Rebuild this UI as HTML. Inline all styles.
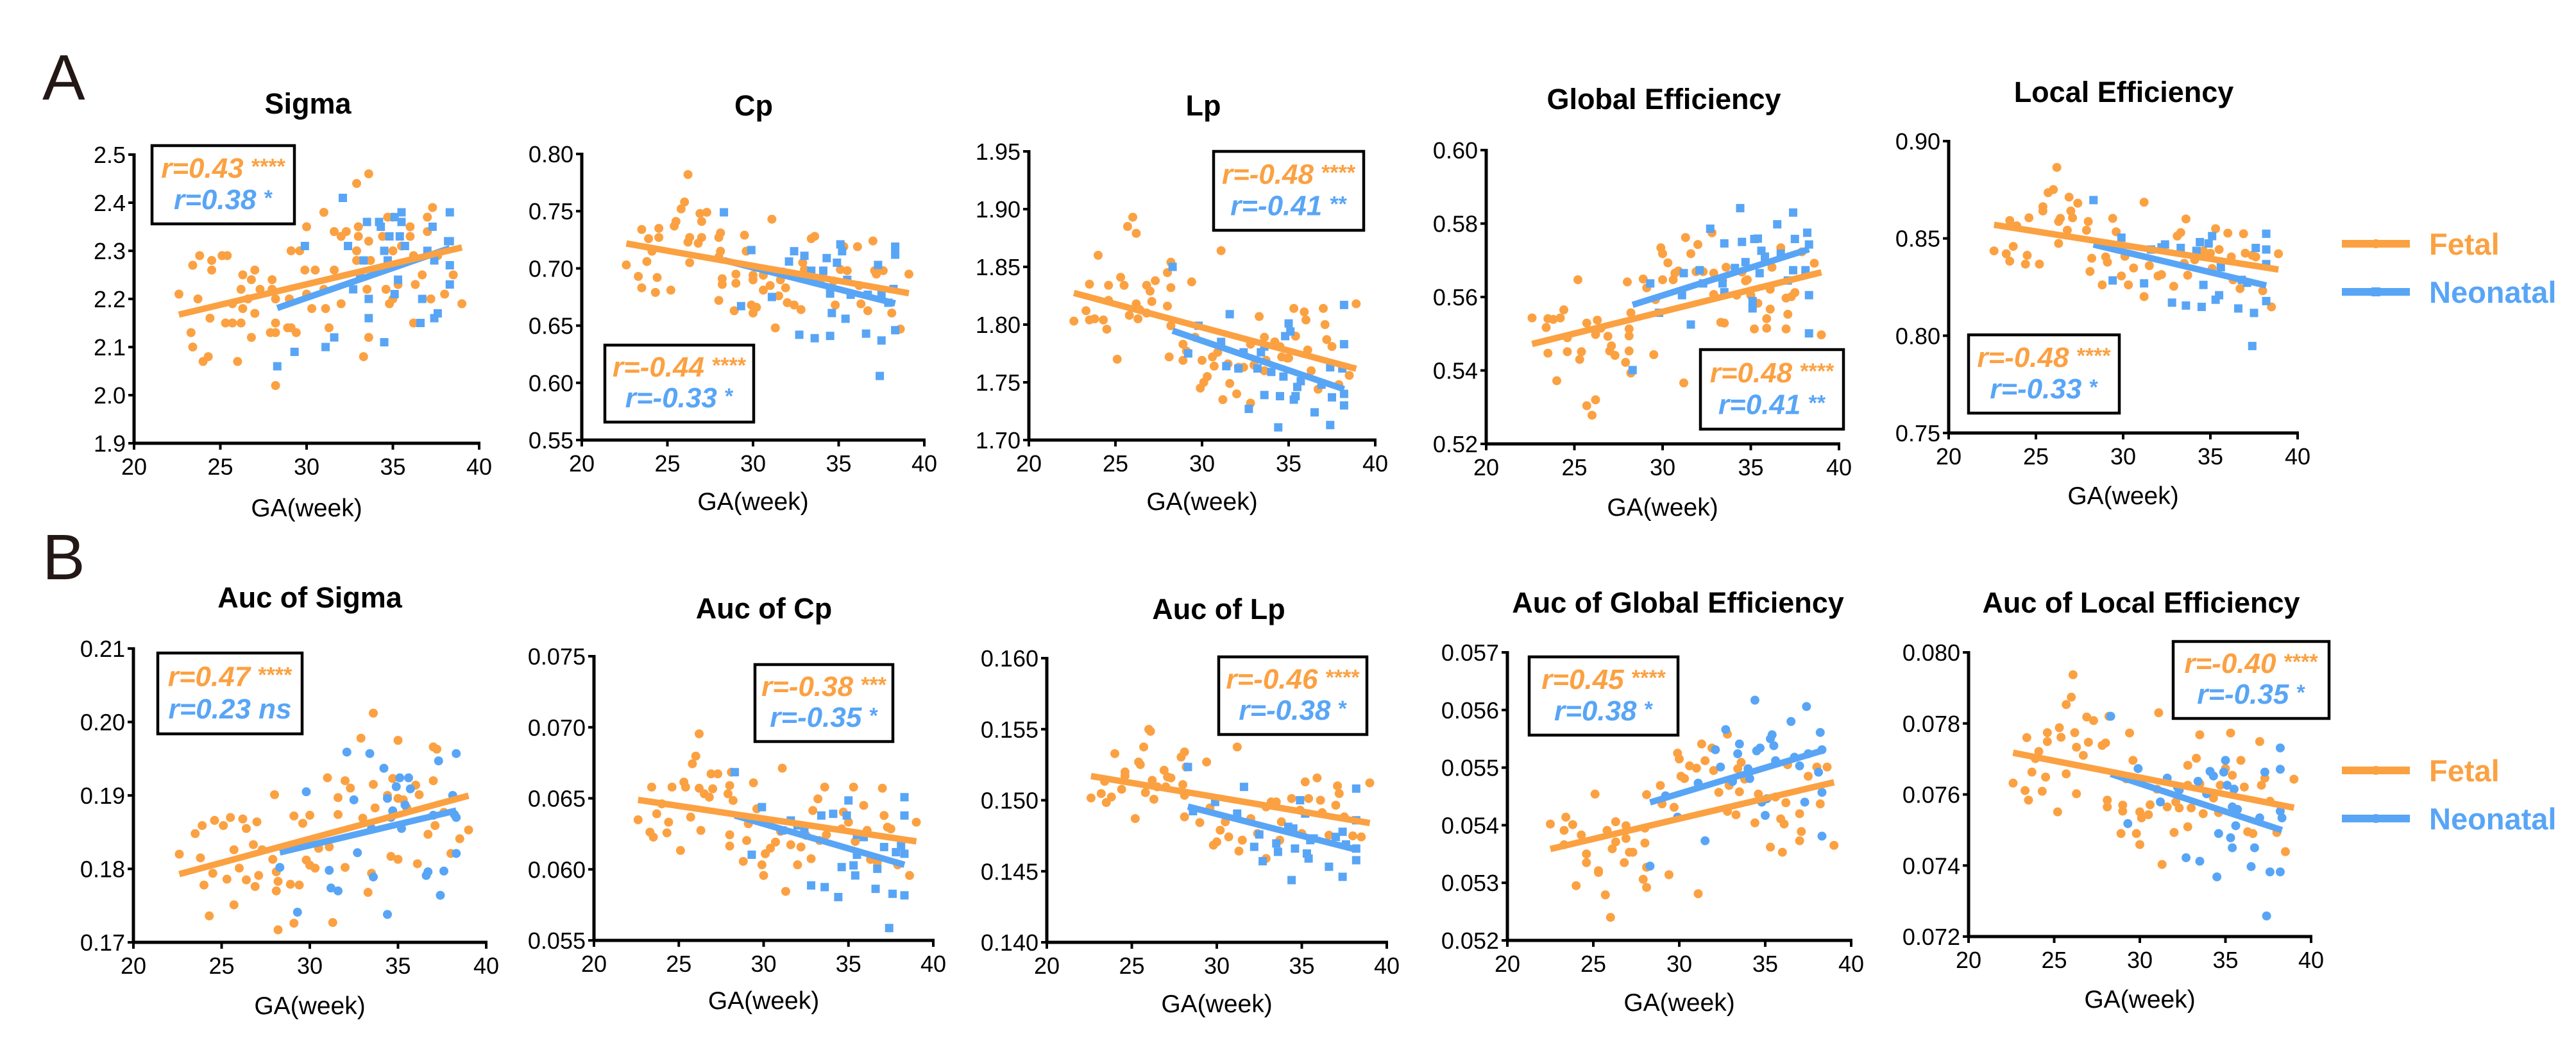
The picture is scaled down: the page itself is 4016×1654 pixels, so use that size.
<!DOCTYPE html>
<html><head><meta charset="utf-8"><style>
html,body{margin:0;padding:0;background:#fff;}
svg{display:block;font-family:"Liberation Sans",Arial,sans-serif;}
</style></head><body>
<svg id="fig" width="4016" height="1654" viewBox="0 0 4016 1654" xmlns="http://www.w3.org/2000/svg">
<rect width="4016" height="1654" fill="#fff"/>
<text x="66" y="155" font-size="100" fill="#231815">A</text>
<text x="66" y="903" font-size="100" fill="#231815">B</text>
</svg>
<script>
const ORANGE="#FBA142", BLUE="#58A5F6";
// ---- A1 Sigma ----
const sigmaFetalGA=[22.6,23.4,23.8,23.7,23.3,23.4,24.0,24.3,24.4,24.5,24.5,25.1,25.4,25.3,25.7,25.7,26.2,26.2,26.3,26.3,26.0,26.8,27.0,27.0,26.8,27.3,26.6,28.0,28.0,28.2,28.2,27.9,28.2,28.2,28.9,29.1,29.0,29.4,29.1,29.6,29.9,30.0,30.0,30.3,30.5,31.0,31.0,31.1,31.3,31.6,31.6,32.0,32.0,32.3,32.9,32.9,32.9,33.0,33.0,33.3,33.5,33.6,33.6,33.7,33.6,34.4,34.6,34.7,35.0,35.0,34.8,35.0,35.3,35.5,36.0,36.0,36.2,36.2,36.3,36.7,37.0,37.0,37.2,37.3,37.6,38.0,38.5,39.0];
const sigmaFetalVal=[2.21,2.27,2.29,2.20,2.13,2.10,2.07,2.08,2.16,2.28,2.26,2.29,2.29,2.15,2.15,2.19,2.15,2.22,2.25,2.18,2.07,2.24,2.26,2.17,2.12,2.22,2.20,2.24,2.22,2.20,2.15,2.13,2.13,2.02,2.14,2.14,2.20,2.13,2.30,2.30,2.26,2.35,2.21,2.18,2.26,2.38,2.22,2.18,2.14,2.26,2.34,2.33,2.19,2.34,2.44,2.30,2.28,2.35,2.33,2.08,2.22,2.46,2.32,2.28,2.12,2.33,2.22,2.37,2.37,2.30,2.19,2.20,2.23,2.31,2.35,2.33,2.15,2.29,2.23,2.25,2.37,2.34,2.20,2.39,2.29,2.21,2.25,2.19];
const sigmaNeoGA=[28.3,29.3,29.9,31.1,31.6,32.1,32.4,32.7,33.1,33.3,33.5,33.6,33.6,34.2,34.3,34.5,34.5,34.7,34.8,35.1,35.1,35.3,35.4,35.5,35.5,35.7,36.6,36.7,37.0,37.3,37.4,37.4,37.6,38.3,38.3,38.3,38.2,38.3];
const sigmaNeoVal=[2.06,2.09,2.31,2.10,2.12,2.41,2.31,2.22,2.25,2.28,2.36,2.20,2.16,2.36,2.35,2.30,2.11,2.28,2.33,2.37,2.21,2.24,2.33,2.38,2.36,2.31,2.15,2.20,2.30,2.35,2.28,2.16,2.17,2.38,2.27,2.23,2.32,2.32];
const sigmaTicks=["1.9","2.0","2.1","2.2","2.3","2.4","2.5"];
// ---- A2 Cp ----
const cpFetalGA=[22.6,23.3,23.5,23.5,23.8,23.9,24.1,24.3,24.4,24.5,24.5,25.2,25.4,25.5,25.8,26.0,26.2,26.2,26.3,26.3,26.8,26.9,27.0,27.0,27.3,28.0,28.0,28.1,28.1,28.0,28.2,28.2,28.9,29.0,29.0,29.5,29.6,29.9,30.0,30.0,30.0,30.2,30.6,30.6,31.0,31.1,31.3,31.5,31.6,31.9,32.0,32.4,32.8,32.9,33.0,33.4,33.6,33.7,34.1,34.7,34.8,35.1,35.3,35.5,36.1,36.2,36.3,36.7,37.0,37.1,37.2,37.6,38.1,38.6,39.1];
const cpFetalVal=[.703,.693,.683,.734,.706,.726,.715,.679,.692,.735,.727,.681,.737,.741,.752,.758,.782,.723,.727,.705,.722,.748,.741,.727,.749,.710,.727,.731,.715,.672,.691,.686,.663,.695,.687,.729,.715,.668,.661,.690,.694,.666,.694,.681,.685,.743,.648,.676,.690,.683,.670,.668,.664,.705,.699,.726,.728,.690,.692,.689,.668,.699,.719,.698,.719,.685,.669,.663,.724,.698,.695,.698,.661,.647,.695];
const cpNeoGA=[28.3,29.3,29.9,31.1,31.6,32.1,32.4,32.7,33.0,33.4,33.6,34.1,34.3,34.5,34.5,34.6,34.9,35.1,35.2,35.4,35.5,35.7,36.6,36.7,37.3,37.4,37.5,37.5,37.9,38.2,38.3,38.3,38.3];
const cpNeoVal=[.749,.667,.716,.675,.697,.706,.715,.642,.711,.698,.639,.698,.709,.641,.678,.661,.705,.721,.715,.656,.690,.677,.643,.677,.703,.606,.677,.637,.670,.682,.719,.712,.646];
const cpTicks=["0.55","0.60","0.65","0.70","0.75","0.80"];
// ---- A3 Lp ----
const lpFetalGA=[22.6,23.3,23.5,23.5,23.8,24.0,24.3,24.5,24.6,24.6,25.1,25.3,25.5,25.7,25.8,26.0,26.2,26.2,26.3,26.4,26.8,26.8,27.0,27.1,27.3,28.0,28.0,28.1,28.2,28.2,28.2,28.9,28.9,29.1,29.4,29.6,29.9,30.0,30.1,30.3,30.6,30.7,30.9,31.1,31.2,31.5,31.6,32.0,32.1,32.4,32.8,32.8,33.0,33.3,33.6,33.6,33.7,34.2,34.5,34.6,34.9,35.0,35.3,35.4,35.9,36.0,36.1,36.3,36.7,37.0,37.1,37.2,37.5,37.9,38.5,38.9];
const lpFetalVal=[1.803,1.812,1.835,1.804,1.805,1.860,1.804,1.796,1.834,1.821,1.770,1.841,1.834,1.885,1.808,1.893,1.879,1.818,1.805,1.813,1.810,1.834,1.829,1.820,1.838,1.845,1.816,1.772,1.854,1.832,1.799,1.783,1.769,1.777,1.837,1.789,1.745,1.769,1.750,1.755,1.772,1.764,1.776,1.864,1.735,1.766,1.749,1.740,1.763,1.763,1.783,1.732,1.765,1.807,1.789,1.760,1.769,1.785,1.781,1.772,1.771,1.771,1.814,1.790,1.811,1.804,1.778,1.760,1.744,1.814,1.800,1.787,1.781,1.748,1.756,1.818];
const lpNeoGA=[28.3,29.2,29.8,31.1,31.4,31.6,32.1,32.4,32.7,33.2,33.4,33.6,33.6,34.0,34.4,34.5,34.7,34.8,35.0,35.1,35.3,35.4,35.5,35.7,36.5,36.9,37.4,37.4,37.5,38.1,38.2,38.2,38.2,38.2];
const lpNeoVal=[1.850,1.775,1.799,1.785,1.764,1.809,1.762,1.776,1.727,1.762,1.776,1.781,1.739,1.759,1.711,1.738,1.755,1.790,1.801,1.794,1.735,1.738,1.746,1.751,1.724,1.748,1.763,1.713,1.737,1.762,1.817,1.783,1.740,1.730];
const lpTicks=["1.70","1.75","1.80","1.85","1.90","1.95"];
// ---- A4 Global Efficiency ----
const geFetalGA=[22.6,23.4,23.5,23.5,23.8,24.0,24.2,24.4,24.6,24.6,25.2,25.3,25.4,25.7,25.7,26.0,26.2,26.2,26.3,26.5,26.9,27.0,27.1,27.3,27.9,28.0,28.1,28.1,28.1,28.2,28.2,28.9,29.1,29.5,29.6,29.9,30.0,30.0,30.3,30.6,30.7,30.9,31.2,31.3,31.6,31.9,32.0,32.3,32.8,32.9,32.9,33.3,33.4,33.5,33.6,34.2,34.5,34.7,34.8,35.0,35.2,35.4,35.9,35.9,36.1,36.1,36.2,36.7,37.0,37.0,37.1,37.3,37.5,37.9,38.6,39.0];
const geFetalVal=[.5543,.5517,.5541,.5447,.5539,.5372,.5543,.5565,.5489,.5451,.5647,.5430,.5451,.5529,.5304,.5278,.5320,.5498,.5537,.5515,.5493,.5453,.5467,.5441,.5422,.5641,.5513,.5494,.5453,.5393,.5557,.5649,.5625,.5443,.5593,.5734,.5718,.5647,.5693,.5647,.5665,.5671,.5366,.5762,.5718,.5669,.5743,.5669,.5775,.5607,.5665,.5531,.5645,.5529,.5681,.5605,.5668,.5644,.5647,.5605,.5513,.5583,.5541,.5515,.5567,.5621,.5681,.5734,.5597,.5513,.5553,.5601,.5612,.5723,.5692,.5497];
const geNeoGA=[28.3,29.3,29.8,31.1,31.2,31.6,32.1,32.3,32.7,33.4,33.5,33.5,34.1,34.4,34.5,34.7,35.1,35.1,35.2,35.4,35.5,35.6,35.8,36.5,36.7,37.1,37.4,37.4,37.5,38.1,38.2,38.3,38.3,38.3];
const geNeoVal=[.5401,.5637,.5557,.5605,.5665,.5525,.5673,.5637,.5786,.5637,.5746,.5613,.5679,.5842,.5750,.5695,.5589,.5569,.5758,.5759,.5665,.5726,.5710,.5798,.5718,.5645,.5830,.5673,.5758,.5673,.5775,.5743,.5605,.5501];
const geTicks=["0.52","0.54","0.56","0.58","0.60"];
// ---- A5 Local Efficiency ----
const leFetalGA=[22.6,23.3,23.5,23.5,23.7,23.9,24.4,24.5,24.6,25.2,25.4,25.4,25.7,26.0,26.2,26.3,26.3,26.4,26.8,26.9,27.0,27.1,27.4,27.9,28.0,28.1,28.2,28.8,29.0,29.1,29.4,29.6,29.9,30.1,30.3,30.6,31.2,31.2,31.5,32.0,32.2,32.9,33.1,33.3,33.5,33.6,33.7,34.1,34.6,35.0,35.1,35.3,35.5,36.0,36.2,36.3,36.7,36.9,37.0,37.4,37.6,38.0,38.5,38.9];
const leFetalVal=[.8436,.8421,.8383,.8592,.8459,.8565,.8368,.8413,.8606,.8368,.8641,.8663,.8735,.8751,.8865,.8587,.8474,.8603,.8542,.8712,.8641,.8606,.8681,.8542,.8587,.8330,.8398,.8261,.8405,.8378,.8603,.8534,.8307,.8408,.8261,.8348,.8686,.8201,.8360,.8307,.8314,.8254,.8512,.8530,.8372,.8600,.8311,.8390,.8436,.8424,.8345,.8550,.8443,.8527,.8405,.8287,.8242,.8524,.8424,.8413,.8405,.8231,.8148,.8421];
const leNeoGA=[28.3,29.4,29.9,31.2,31.6,32.2,32.4,32.8,33.3,33.6,34.2,34.4,34.5,34.6,34.9,35.1,35.3,35.5,35.6,36.6,36.8,37.1,37.4,37.5,37.6,38.2,38.2,38.2,38.2];
const leNeoVal=[.8697,.8284,.8504,.8269,.8443,.8454,.8469,.8170,.8451,.8155,.8436,.8481,.8148,.8261,.8474,.8512,.8185,.8208,.8352,.8140,.8287,.8272,.7947,.8117,.8451,.8368,.8524,.8443,.8178];
const leTicks=["0.75","0.80","0.85","0.90"];
// ---- B1 Auc of Sigma ----
const aSigmaFetalGA=[22.6,23.5,23.8,23.9,24.0,24.3,24.5,24.6,25.1,25.3,25.5,25.7,25.7,26.0,26.2,26.4,26.4,26.8,26.9,27.0,27.1,27.3,28.0,27.9,28.1,28.1,28.2,28.2,28.9,29.1,29.1,29.4,29.6,29.8,30.0,30.0,30.3,30.5,31.0,31.1,31.3,31.6,31.6,32.0,32.0,32.3,32.9,33.0,33.3,33.5,33.6,33.6,33.7,34.4,34.6,34.7,35.0,35.0,35.0,35.3,35.5,36.0,36.1,36.2,36.7,37.0,37.0,37.2,37.1,37.6,38.0,38.5,39.0];
const aSigmaFetalVal=[.1820,.1848,.1815,.1859,.1778,.1736,.1794,.1866,.1859,.1786,.1870,.1826,.1751,.1801,.1868,.1855,.1785,.1833,.1776,.1864,.1791,.1826,.1901,.1813,.1796,.1770,.1717,.1783,.1779,.1726,.1872,.1778,.1862,.1812,.1873,.1805,.1801,.1828,.1924,.1830,.1727,.1874,.1897,.1802,.1920,.1910,.1978,.1869,.1768,.1794,.2012,.1915,.1883,.1900,.1817,.1923,.1975,.1896,.1813,.1894,.1883,.1914,.1807,.1901,.1847,.1920,.1966,.1963,.1859,.1877,.1821,.1841,.1853];
const aSigmaNeoGA=[28.3,29.3,29.8,31.1,31.2,31.6,32.1,32.5,32.7,33.4,33.5,33.6,34.2,34.4,34.4,34.6,34.7,34.9,35.1,35.2,35.4,35.6,35.7,36.6,36.7,37.0,37.3,37.4,37.6,38.1,38.2,38.3,38.3,38.3];
const aSigmaNeoVal=[.1802,.1741,.1905,.1798,.1774,.1770,.1959,.1894,.1822,.1957,.1855,.1789,.1937,.1896,.1738,.1870,.1879,.1912,.1924,.1855,.1887,.1924,.1909,.1791,.1796,.1873,.1947,.1764,.1797,.1900,.1874,.1821,.1957,.1870];
const aSigmaTicks=["0.17","0.18","0.19","0.20","0.21"];
// ---- B2 Auc of Cp ----
const aCpFetalGA=[22.6,23.3,23.4,23.5,23.7,24.0,24.3,24.4,24.6,25.1,25.3,25.4,25.7,25.8,26.0,26.2,26.2,26.3,26.5,26.8,26.9,27.0,27.3,27.9,28.0,28.0,28.0,28.1,28.2,28.8,29.0,29.1,29.4,29.6,29.9,30.0,30.1,30.4,30.7,31.0,31.1,31.3,31.6,32.0,32.2,32.5,32.8,32.9,33.2,33.3,33.6,33.7,34.6,34.7,35.0,35.3,35.4,35.9,36.1,36.3,36.7,37.0,37.1,37.3,37.5,37.9,38.6,39.0];
const aCpFetalVal=[.06349,.06262,.06579,.06227,.06391,.06461,.06257,.06332,.06579,.06133,.06614,.06579,.06368,.06743,.06797,.06954,.06571,.06274,.06532,.06508,.06672,.06567,.06672,.06532,.06590,.06243,.06164,.06684,.06485,.06056,.06203,.06321,.06609,.06426,.06032,.05957,.06110,.06149,.06192,.06267,.06712,.05845,.06173,.06032,.06157,.06239,.06075,.06414,.06496,.06203,.06579,.06243,.06285,.06403,.06332,.06579,.06196,.06450,.06274,.06070,.06051,.06571,.06379,.06297,.06285,.06032,.05957,.06332];
const aCpNeoGA=[28.3,29.3,29.9,31.1,31.6,32.0,32.4,32.8,33.4,33.6,34.1,34.4,34.6,34.9,35.0,35.3,35.4,35.5,35.5,35.9,36.6,36.7,37.1,37.4,37.6,37.8,38.1,38.3,38.3,38.3,38.3];
const aCpNeoVal=[.06684,.06103,.06438,.06274,.06344,.06309,.06285,.05887,.06379,.05875,.06391,.05805,.06016,.06379,.06485,.06028,.05957,.06243,.06103,.06227,.05863,.06004,.06157,.05587,.05828,.06121,.06164,.06508,.06110,.05817,.06379];
const aCpTicks=["0.055","0.060","0.065","0.070","0.075"];
// ---- B3 Auc of Lp ----
const aLpFetalGA=[22.6,23.2,23.4,23.5,23.8,24.0,24.4,24.6,24.6,25.2,25.4,25.5,25.7,25.8,26.0,26.1,26.2,26.3,26.5,26.9,27.0,27.1,27.3,27.9,28.0,28.1,28.1,28.1,28.2,29.0,29.4,29.6,29.8,30.0,30.2,30.5,30.7,31.2,31.3,31.5,32.0,32.4,32.9,32.9,33.2,33.5,33.7,33.8,34.4,34.9,35.0,35.2,35.4,35.9,36.1,36.2,36.6,37.0,37.1,37.2,37.5,38.0,38.5,39.0];
const aLpFetalVal=[.15016,.15047,.15133,.14984,.15023,.15328,.15077,.15199,.15171,.14871,.15269,.15251,.15375,.15054,.15499,.15485,.15140,.15007,.15094,.15211,.15094,.15164,.15157,.15304,.15110,.15035,.15340,.14883,.15234,.14843,.15269,.14946,.14684,.14707,.14789,.14848,.14742,.15375,.14642,.14719,.14871,.14766,.14590,.14953,.14988,.14988,.14719,.14848,.15012,.14930,.14766,.15129,.15012,.15157,.15000,.14913,.14754,.14965,.15101,.15047,.14883,.14749,.14742,.15122];
const aLpNeoGA=[28.3,28.6,29.9,31.2,31.6,32.2,32.5,32.7,33.5,33.6,34.2,34.4,34.5,34.6,34.9,35.2,35.3,35.4,35.5,35.7,36.6,37.0,37.4,37.4,37.6,38.2,38.2,38.2,38.2];
const aLpNeoVal=[.15234,.14923,.14988,.14906,.15094,.14672,.14759,.14571,.14696,.14637,.14813,.14438,.14801,.14660,.15000,.14906,.14625,.14590,.14719,.14731,.14532,.14742,.14461,.14778,.14689,.15082,.14859,.14660,.14578];
const aLpTicks=["0.140","0.145","0.150","0.155","0.160"];
// ---- B4 Auc of Global Efficiency ----
const aGeFetalGA=[22.5,23.3,23.3,23.4,23.8,24.0,24.3,24.6,24.6,25.1,25.3,25.3,25.7,25.8,26.0,26.1,26.3,26.3,26.8,26.9,26.9,27.1,27.3,27.9,28.0,28.0,28.1,28.1,28.1,28.9,29.0,29.4,29.7,29.9,30.0,30.1,30.3,30.6,31.0,31.1,31.3,31.5,31.9,32.0,32.3,32.8,32.8,32.9,33.3,33.4,33.5,33.6,33.8,34.4,34.6,35.3,35.6,35.9,36.0,36.1,36.2,36.3,37.0,37.0,37.1,37.5,38.0,38.2,38.6,39.0];
const aGeFetalVal=[.05402,.05391,.05366,.05414,.05401,.05295,.05383,.05350,.05335,.05454,.05318,.05321,.05279,.05391,.05240,.05359,.05406,.05371,.05335,.05399,.05377,.05353,.05353,.05306,.05369,.05395,.05327,.05292,.05453,.05469,.05437,.05314,.05431,.05525,.05515,.05485,.05481,.05503,.05499,.05281,.05541,.05512,.05534,.05495,.05457,.05558,.05424,.05469,.05418,.05498,.05458,.05509,.05480,.05404,.05454,.05362,.05449,.05411,.05353,.05402,.05439,.05505,.05420,.05373,.05389,.05485,.05501,.05437,.05501,.05365];
const aGeNeoGA=[28.3,29.2,29.9,31.1,31.5,32.1,32.4,32.7,33.1,33.4,33.5,34.0,34.1,34.4,34.5,34.7,34.8,35.0,35.1,35.3,35.4,35.5,35.6,36.5,36.7,37.0,37.3,37.4,37.5,38.1,38.2,38.3,38.3,38.3];
const aGeNeoVal=[.05329,.05451,.05414,.05473,.05373,.05531,.05501,.05566,.05476,.05524,.05541,.05498,.05481,.05617,.05529,.05534,.05440,.05417,.05446,.05550,.05557,.05538,.05512,.05580,.05518,.05503,.05440,.05606,.05524,.05492,.05561,.05531,.05457,.05381];
const aGeTicks=["0.052","0.053","0.054","0.055","0.056","0.057"];
// ---- B5 Auc of Local Efficiency ----
const aLeFetalGA=[22.6,23.3,23.4,23.5,23.7,23.9,24.1,24.3,24.5,24.6,24.6,25.2,25.3,25.4,25.7,25.7,26.0,26.1,26.2,26.3,26.3,26.7,26.9,27.0,27.3,27.8,28.0,28.1,28.1,28.2,29.0,29.0,28.9,29.2,29.4,29.6,29.8,30.0,30.0,30.1,30.5,30.6,31.0,31.1,31.3,31.6,32.0,32.1,32.3,32.8,32.8,32.8,33.0,33.3,33.5,33.5,33.7,34.3,34.7,34.6,35.0,35.3,35.4,35.5,35.9,36.1,36.3,36.6,37.0,37.1,37.3,37.6,38.0,38.5,39.0];
const aLeFetalVal=[.07632,.07611,.07760,.07584,.07663,.07701,.07721,.07609,.07649,.07749,.07774,.07551,.07788,.07761,.07853,.07658,.07874,.07937,.07774,.07733,.07602,.07710,.07818,.07747,.07808,.07738,.07745,.07565,.07584,.07820,.07570,.07553,.07490,.07644,.07773,.07696,.07490,.07459,.07551,.07534,.07543,.07571,.07615,.07830,.07403,.07565,.07493,.07579,.07562,.07626,.07682,.07509,.07562,.07702,.07768,.07630,.07546,.07590,.07626,.07549,.07673,.07773,.07654,.07615,.07696,.07621,.07495,.07490,.07749,.07626,.07646,.07581,.07493,.07439,.07643];
const aLeNeoGA=[28.3,29.3,29.9,31.2,31.6,32.2,32.3,32.7,33.4,33.5,33.9,34.1,34.3,34.5,34.6,34.9,35.0,35.1,35.3,35.4,35.4,35.5,35.6,35.7,36.5,36.7,37.0,37.3,37.4,37.6,38.2,38.2,38.2,38.3,38.2];
const aLeNeoVal=[.07820,.07518,.07673,.07579,.07646,.07621,.07612,.07422,.07637,.07412,.07602,.07665,.07652,.07368,.07490,.07663,.07696,.07626,.07478,.07565,.07450,.07615,.07512,.07558,.07397,.07450,.07534,.07663,.07258,.07382,.07731,.07671,.07553,.07534,.07382];
const aLeTicks=["0.072","0.074","0.076","0.078","0.080"];
const gaTicks=["20","25","30","35","40"];

const panels=[
 {id:"sigma",title:"Sigma",fx:sigmaFetalGA,fy:sigmaFetalVal,nx:sigmaNeoGA,ny:sigmaNeoVal,ticks:sigmaTicks,neoSq:true,x0:209,x1:747,yT:241,yB:691,tx:480,ty:161,box:[237,227,222,122],r1:"r=0.43",s1:"****",r2:"r=0.38",s2:"*",ga:791},
 {id:"cp",title:"Cp",fx:cpFetalGA,fy:cpFetalVal,nx:cpNeoGA,ny:cpNeoVal,ticks:cpTicks,neoSq:true,x0:907,x1:1441,yT:240,yB:686,tx:1175,ty:164,box:[943,538,232,120],r1:"r=-0.44",s1:"****",r2:"r=-0.33",s2:"*",ga:781},
 {id:"lp",title:"Lp",fx:lpFetalGA,fy:lpFetalVal,nx:lpNeoGA,ny:lpNeoVal,ticks:lpTicks,neoSq:true,x0:1604,x1:2144,yT:236,yB:686,tx:1876,ty:164,box:[1892,236,234,123],r1:"r=-0.48",s1:"****",r2:"r=-0.41",s2:"**",ga:781},
 {id:"global-efficiency",title:"Global Efficiency",fx:geFetalGA,fy:geFetalVal,nx:geNeoGA,ny:geNeoVal,ticks:geTicks,neoSq:true,x0:2317,x1:2867,yT:234,yB:692,tx:2594,ty:154,box:[2651,545,223,124],r1:"r=0.48",s1:"****",r2:"r=0.41",s2:"**",ga:790},
 {id:"local-efficiency",title:"Local Efficiency",fx:leFetalGA,fy:leFetalVal,nx:leNeoGA,ny:leNeoVal,ticks:leTicks,neoSq:true,x0:3038,x1:3582,yT:220,yB:675,tx:3311,ty:143,box:[3069,522,235,122],r1:"r=-0.48",s1:"****",r2:"r=-0.33",s2:"*",ga:772},
 {id:"auc-sigma",title:"Auc of Sigma",fx:aSigmaFetalGA,fy:aSigmaFetalVal,nx:aSigmaNeoGA,ny:aSigmaNeoVal,ticks:aSigmaTicks,neoSq:false,x0:208,x1:758,yT:1011,yB:1469,tx:483,ty:931,box:[246,1018,225,126],r1:"r=0.47",s1:"****",r2:"r=0.23 ns",s2:"",ga:1567},
 {id:"auc-cp",title:"Auc of Cp",fx:aCpFetalGA,fy:aCpFetalVal,nx:aCpNeoGA,ny:aCpNeoVal,ticks:aCpTicks,neoSq:true,x0:926,x1:1455,yT:1023,yB:1466,tx:1191,ty:948,box:[1177,1036,215,120],r1:"r=-0.38",s1:"***",r2:"r=-0.35",s2:"*",ga:1559},
 {id:"auc-lp",title:"Auc of Lp",fx:aLpFetalGA,fy:aLpFetalVal,nx:aLpNeoGA,ny:aLpNeoVal,ticks:aLpTicks,neoSq:true,x0:1632,x1:2162,yT:1026,yB:1469,tx:1900,ty:949,box:[1900,1024,231,121],r1:"r=-0.46",s1:"****",r2:"r=-0.38",s2:"*",ga:1564},
 {id:"auc-global-efficiency",title:"Auc of Global Efficiency",fx:aGeFetalGA,fy:aGeFetalVal,nx:aGeNeoGA,ny:aGeNeoVal,ticks:aGeTicks,neoSq:false,x0:2350,x1:2886,yT:1017,yB:1466,tx:2616,ty:939,box:[2384,1024,232,122],r1:"r=0.45",s1:"****",r2:"r=0.38",s2:"*",ga:1562},
 {id:"auc-local-efficiency",title:"Auc of Local Efficiency",fx:aLeFetalGA,fy:aLeFetalVal,nx:aLeNeoGA,ny:aLeNeoVal,ticks:aLeTicks,neoSq:false,x0:3069,x1:3603,yT:1017,yB:1460,tx:3338,ty:939,box:[3388,1000,243,120],r1:"r=-0.40",s1:"****",r2:"r=-0.35",s2:"*",ga:1557}
];

const NS="http://www.w3.org/2000/svg";
const svg=document.getElementById("fig");
function el(tag,attrs,parent){const e=document.createElementNS(NS,tag);for(const k in attrs)e.setAttribute(k,attrs[k]);(parent||svg).appendChild(e);return e;}
function fit(xs,ys){const n=Math.min(xs.length,ys.length);let sx=0,sy=0,sxx=0,sxy=0,mn=1e9,mx=-1e9;for(let i=0;i<n;i++){sx+=xs[i];sy+=ys[i];sxx+=xs[i]*xs[i];sxy+=xs[i]*ys[i];mn=Math.min(mn,xs[i]);mx=Math.max(mx,xs[i]);}const b=(n*sxy-sx*sy)/(n*sxx-sx*sx);const a=(sy-b*sx)/n;return {a,b,mn,mx};}

panels.forEach(p=>{
  const g=el("g",{});
  
  
  const vmin=parseFloat(p.ticks[0]),vmax=parseFloat(p.ticks[p.ticks.length-1]);
  const gmin=parseFloat(gaTicks[0]),gmax=parseFloat(gaTicks[gaTicks.length-1]);
  const X=v=>p.x0+(v-gmin)/(gmax-gmin)*(p.x1-p.x0);
  const Y=v=>p.yB-(v-vmin)/(vmax-vmin)*(p.yB-p.yT);
  const t=el("text",{x:p.tx,y:p.ty+16,"text-anchor":"middle","font-size":45,"font-weight":"bold",fill:"#000"},g);
  t.textContent=p.title;
  
  
  const ya=el("line",{x1:p.x0,y1:p.yT-2,x2:p.x0,y2:p.yB+2,stroke:"#000","stroke-width":5},g);
  
  
  const xa=el("line",{x1:p.x0-2,y1:p.yB,x2:p.x1+2,y2:p.yB,stroke:"#000","stroke-width":5},g);
  
  
  p.ticks.forEach(tk=>{const yy=Y(parseFloat(tk));
    el("line",{x1:p.x0-9,y1:yy,x2:p.x0,y2:yy,stroke:"#000","stroke-width":4},g);
    const tl=el("text",{x:p.x0-13,y:yy+13,"text-anchor":"end","font-size":36,fill:"#000"},g);
    tl.textContent=tk;
    
    
  });
  gaTicks.forEach(tk=>{const xx=X(parseFloat(tk));
    el("line",{x1:xx,y1:p.yB,x2:xx,y2:p.yB+10,stroke:"#000","stroke-width":4},g);
    const tl=el("text",{x:xx,y:p.yB+49,"text-anchor":"middle","font-size":36,fill:"#000"},g);
    tl.textContent=tk;
    
    
  });
  const gl=el("text",{x:(p.x0+p.x1)/2,y:p.ga+14,"text-anchor":"middle","font-size":39,fill:"#000"},g);
  gl.textContent="GA(week)";
  
  
  for(let i=0;i<Math.min(p.fx.length,p.fy.length);i++){
    const c=el("circle",{cx:X(p.fx[i]),cy:Y(p.fy[i]),r:7,fill:ORANGE},g);
    
    
  }
  for(let i=0;i<Math.min(p.nx.length,p.ny.length);i++){
    let m;
    if(p.neoSq) m=el("rect",{x:X(p.nx[i])-6.5,y:Y(p.ny[i])-6.5,width:13,height:13,fill:BLUE},g);
    else m=el("circle",{cx:X(p.nx[i]),cy:Y(p.ny[i]),r:7,fill:BLUE},g);
    
    
  }
  const fn=fit(p.nx,p.ny);
  const ln=el("line",{x1:X(fn.mn),y1:Y(fn.a+fn.b*fn.mn),x2:X(fn.mx),y2:Y(fn.a+fn.b*fn.mx),stroke:BLUE,"stroke-width":10},g);
  
  
  const ff=fit(p.fx,p.fy);
  const lf=el("line",{x1:X(ff.mn),y1:Y(ff.a+ff.b*ff.mn),x2:X(ff.mx),y2:Y(ff.a+ff.b*ff.mx),stroke:ORANGE,"stroke-width":10},g);
  
  
  const [bx,by,bw,bh]=p.box;
  const br=el("rect",{x:bx,y:by,width:bw,height:bh,fill:"none",stroke:"#000","stroke-width":4.5},g);
  
  
  const t1=el("text",{x:bx+bw/2,y:by+bh*0.41,"text-anchor":"middle","font-size":44,"font-weight":"bold","font-style":"italic",fill:ORANGE},g);
  t1.innerHTML=p.r1+' <tspan font-size="34" font-style="normal" dy="-6">'+p.s1+'</tspan>';
  
  
  const t2=el("text",{x:bx+bw/2,y:by+bh*0.81,"text-anchor":"middle","font-size":44,"font-weight":"bold","font-style":"italic",fill:BLUE},g);
  t2.innerHTML=p.r2+(p.s2?' <tspan font-size="34" font-style="normal" dy="-6">'+p.s2+'</tspan>':'');
  
  
});

[[380,455,true,"a"],[1201,1276,false,"b"]].forEach(([yf,yn,sq,row])=>{
  const g=el("g",{});
  
  
  el("line",{x1:3651,y1:yf,x2:3757,y2:yf,stroke:ORANGE,"stroke-width":12},g);
  el("circle",{cx:3704,cy:yf,r:7,fill:ORANGE},g);
  const a=el("text",{x:3787,y:yf+17,"font-size":47,"font-weight":"bold",fill:ORANGE},g);
  a.textContent="Fetal";
  
  
  el("line",{x1:3651,y1:yn,x2:3757,y2:yn,stroke:BLUE,"stroke-width":12},g);
  if(sq) el("rect",{x:3697,y:yn-7,width:14,height:14,fill:BLUE},g);
  else el("circle",{cx:3704,cy:yn,r:7,fill:BLUE},g);
  const b=el("text",{x:3787,y:yn+17,"font-size":47,"font-weight":"bold",fill:BLUE},g);
  b.textContent="Neonatal";
  
  
});
</script>
</body></html>
